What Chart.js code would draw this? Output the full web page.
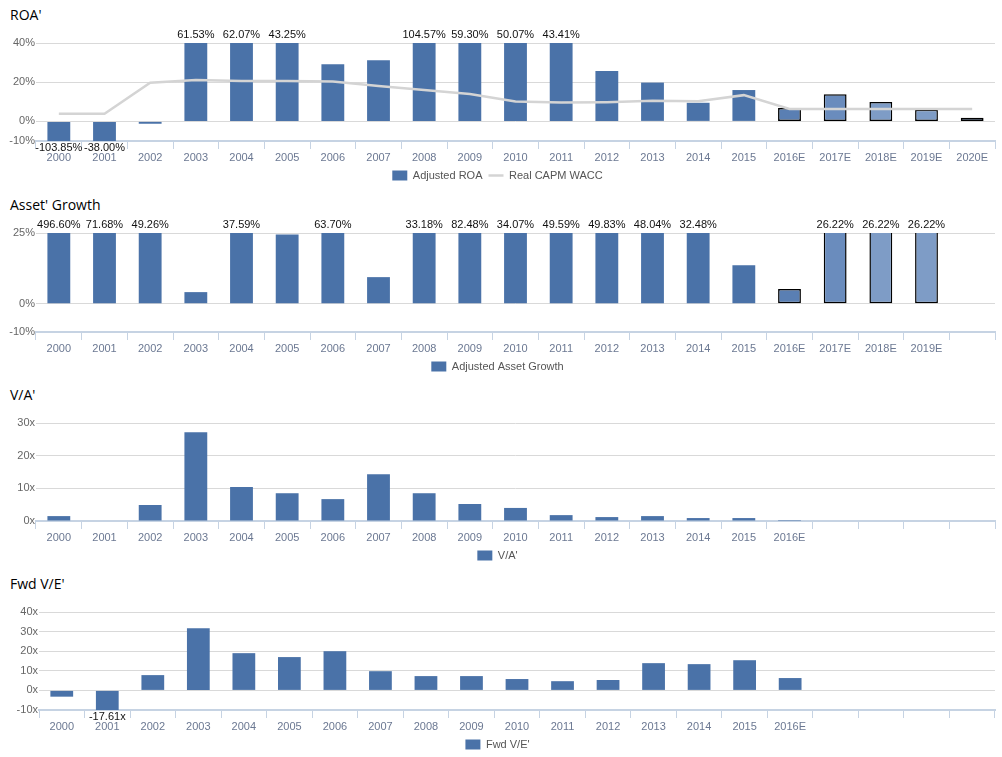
<!DOCTYPE html>
<html>
<head>
<meta charset="utf-8">
<script src="https://cdn.jsdelivr.net/npm/chart.js@4.4.0/dist/chart.umd.min.js"></script>
<style>
  html, body { margin:0; padding:0; background:#fff; overflow:hidden; }
  #wrap { position:relative; width:1002px; height:757px; overflow:hidden; background:#fff; }
  .title { position:absolute; left:10px; font-family:"Open Sans", "DejaVu Sans", sans-serif; font-size:14px; line-height:20px; color:#000; }
  .box { position:absolute; left:0; width:1002px; }
</style>
</head>
<body>
<div id="wrap">
  <div class="title" style="top:5px">ROA'</div>
  <div class="title" style="top:195px">Asset' Growth</div>
  <div class="title" style="top:385px">V/A'</div>
  <div class="title" style="top:574px">Fwd V/E'</div>
  <div class="box" id="b1"><canvas id="c1"></canvas></div>
  <div class="box" id="b2"><canvas id="c2"></canvas></div>
  <div class="box" id="b3"><canvas id="c3"></canvas></div>
  <div class="box" id="b4"><canvas id="c4"></canvas></div>
</div>
<script>
// ---------------- DATA ----------------
const years = ['2000','2001','2002','2003','2004','2005','2006','2007','2008','2009','2010','2011','2012','2013','2014','2015','2016E','2017E','2018E','2019E','2020E'];
const growthLabels = ['2000','2001','2002','2003','2004','2005','2006','2007','2008','2009','2010','2011','2012','2013','2014','2015','2016E','2017E','2018E','2019E',''];
const valuationLabels = ['2000','2001','2002','2003','2004','2005','2006','2007','2008','2009','2010','2011','2012','2013','2014','2015','2016E','','','',''];

const adjustedROA = [-103.85, -38.00, -1.2, 61.53, 62.07, 43.25, 29.2, 31.2, 104.57, 59.30, 50.07, 43.41, 25.7, 19.8, 9.5, 16.0, 6.8, 13.8, 9.9, 5.9, 1.9];
const realCapmWacc = [3.9, 3.9, 19.7, 21.1, 20.6, 20.6, 20.3, 18.1, 16.0, 14.0, 10.1, 9.6, 9.8, 10.5, 10.3, 13.4, 6.3, 6.3, 6.3, 6.3, 6.3];
const adjustedAssetGrowth = [496.60, 71.68, 49.26, 4.1, 37.59, 24.5, 63.70, 9.4, 33.18, 82.48, 34.07, 49.59, 49.83, 48.04, 32.48, 13.6, 5.2, 26.22, 26.22, 26.22, null];
const vaRatio = [1.5, null, 4.9, 27.2, 10.4, 8.5, 6.7, 14.3, 8.5, 5.2, 4.0, 1.8, 1.2, 1.5, 0.9, 0.9, 0.3, null, null, null, null];
const fwdVE = [-3.2, -17.61, 7.8, 31.7, 19.0, 17.0, 20.0, 9.8, 7.3, 7.3, 5.8, 4.7, 5.3, 13.9, 13.4, 15.4, 6.3, null, null, null, null];

const roaTicks = [-10, 0, 20, 40];
const growthTicks = [-10, 0, 25];
const vaTicks = [0, 10, 20, 30];
const veTicks = [-10, 0, 10, 20, 30, 40];

// ---------------- STYLE ----------------
const FONT = '"Liberation Sans", Arial, sans-serif';
Chart.defaults.font.family = FONT;
Chart.defaults.font.size = 11;
const BLUE = '#4a72a8';
const X_H = 23, LEG_H = 27, PAD_TOP = 20;

const overflowLabels = {
  id: 'overflowLabels',
  afterDatasetsDraw(chart, args, opts) {
    if (!opts || !opts.suffix) return;
    const ds = chart.data.datasets[0];
    const meta = chart.getDatasetMeta(0);
    const ys = chart.scales.y;
    const ctx = chart.ctx;
    ctx.save();
    ctx.font = '11px ' + FONT;
    ctx.fillStyle = '#111';
    ctx.textAlign = 'center';
    ctx.textBaseline = 'middle';
    ds.data.forEach((v, i) => {
      if (v == null) return;
      const x = meta.data[i].x;
      if (v > ys.max) ctx.fillText(v.toFixed(2) + opts.suffix, x, chart.chartArea.top - 8);
      else if (v < ys.min) ctx.fillText(v.toFixed(2) + opts.suffix, x, chart.chartArea.bottom + 6.5);
    });
    ctx.restore();
  }
};

function fills(n, forecast) {
  const arr = [];
  for (let i = 0; i < n; i++) arr.push(forecast[i] || BLUE);
  return arr;
}
function borders(n, from, to) {
  const w = [];
  for (let i = 0; i < n; i++) w.push(i >= from && i <= to ? 1.5 : 0);
  return w;
}

function makeChart(id, boxId, areaTop, areaBottom, yW, labels, datasets, yMin, yMax, ticks, suffix) {
  const T = areaTop - PAD_TOP;
  const H = areaBottom - T + X_H + LEG_H;
  const box = document.getElementById(boxId);
  box.style.top = T + 'px';
  box.style.height = H + 'px';
  return new Chart(document.getElementById(id), {
    type: 'bar',
    data: { labels, datasets },
    plugins: [overflowLabels],
    options: {
      responsive: true,
      maintainAspectRatio: false,
      animation: false,
      layout: { padding: { top: PAD_TOP, right: 7, left: 0, bottom: 0 } },
      plugins: {
        tooltip: { enabled: false },
        overflowLabels: { suffix },
        legend: {
          position: 'bottom',
          labels: {
            usePointStyle: true,
            pointStyleWidth: 15,
            boxHeight: 10,
            padding: 6,
            color: '#555',
            font: { size: 11, family: FONT },
            sort: (a, b) => a.datasetIndex - b.datasetIndex
          }
        }
      },
      scales: {
        x: {
          grid: { display: true, drawOnChartArea: false, drawTicks: true, tickLength: 8, color: '#c6d3e3', offset: true },
          border: { display: true, color: '#c6d3e3', width: 2 },
          ticks: { color: '#6b7892', font: { size: 11 }, padding: 2, maxRotation: 0, autoSkip: false },
          afterFit: s => { s.height = X_H; }
        },
        y: {
          min: yMin, max: yMax,
          grid: { color: '#d9d9d9', drawTicks: false },
          border: { display: false },
          ticks: { color: '#666', font: { size: 11 }, padding: 1, callback: v => v + suffix },
          afterBuildTicks: s => { s.ticks = ticks.map(v => ({ value: v })); },
          afterFit: s => { s.width = yW; }
        }
      }
    }
  });
}

const N = years.length;

makeChart('c1', 'b1', 43, 141, 36, years, [
  {
    type: 'bar', label: 'Adjusted ROA', data: adjustedROA, order: 1,
    backgroundColor: fills(N, {16: '#5a7fb3', 17: '#6a8cbd', 18: '#7e9cc6', 19: '#7e9cc6', 20: '#6a8cbd'}),
    borderColor: '#000', borderWidth: borders(N, 16, 20), borderSkipped: false,
    categoryPercentage: 0.5, barPercentage: 1.0, pointStyle: 'rect'
  },
  {
    type: 'line', label: 'Real CAPM WACC', data: realCapmWacc, order: 0,
    borderColor: '#d4d4d4', backgroundColor: '#d4d4d4', borderWidth: 2.5,
    pointRadius: 0, tension: 0, pointStyle: 'line'
  }
], -10, 40, roaTicks, '%');

makeChart('c2', 'b2', 233, 332, 36, growthLabels, [
  {
    type: 'bar', label: 'Adjusted Asset Growth', data: adjustedAssetGrowth,
    backgroundColor: fills(N, {16: '#5a7fb3', 17: '#6a8cbd', 18: '#7e9cc6', 19: '#7e9cc6'}),
    borderColor: '#000', borderWidth: borders(N, 16, 19), borderSkipped: false,
    categoryPercentage: 0.5, barPercentage: 1.0, pointStyle: 'rect'
  }
], -10, 25, growthTicks, '%');

makeChart('c3', 'b3', 423, 521, 36, valuationLabels, [
  {
    type: 'bar', label: "V/A'", data: vaRatio, backgroundColor: BLUE, borderWidth: 0,
    categoryPercentage: 0.5, barPercentage: 1.0, pointStyle: 'rect'
  }
], 0, 30, vaTicks, 'x');

makeChart('c4', 'b4', 612, 710, 39, valuationLabels, [
  {
    type: 'bar', label: "Fwd V/E'", data: fwdVE, backgroundColor: BLUE, borderWidth: 0,
    categoryPercentage: 0.5, barPercentage: 1.0, pointStyle: 'rect'
  }
], -10, 40, veTicks, 'x');
</script>
</body>
</html>
